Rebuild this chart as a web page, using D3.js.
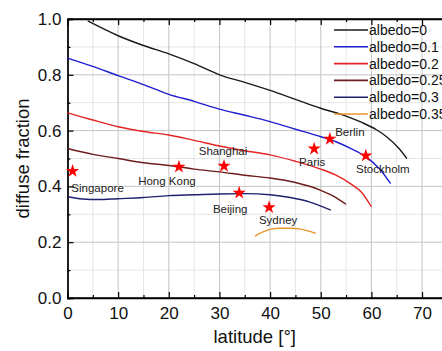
<!DOCTYPE html>
<html>
<head>
<meta charset="utf-8">
<script src="https://cdn.jsdelivr.net/npm/d3@7"></script>
<style>
  body { margin: 0; background: #fff; }
  svg { display: block; font-family: "Liberation Sans", Arial, sans-serif; }
</style>
</head>
<body>
<div id="graf"></div>
<script>
// I. Datos
albedos = ['albedo=0', 'albedo=0.1', 'albedo=0.2', 'albedo=0.25', 'albedo=0.3', 'albedo=0.35']
colores = ['#1a1a1a', '#1f1fd0', '#e42424', '#6e1c1c', '#20206e', '#e8962e']

serie0 = [[4,0.993],[10,0.94],[15,0.905],[20,0.875],[25,0.84],[30,0.80],[35,0.773],[40,0.744],[45,0.712],[50,0.68],[55,0.652],[58,0.63],[61,0.603],[63,0.578],[65.5,0.535],[67,0.50]]
serie1 = [[0,0.86],[5,0.83],[10,0.797],[15,0.765],[20,0.73],[25,0.705],[30,0.677],[35,0.655],[40,0.632],[45,0.605],[50,0.578],[53,0.56],[56,0.535],[59,0.505],[61.5,0.465],[63.8,0.41]]
serie2 = [[0,0.664],[5,0.638],[10,0.614],[15,0.597],[20,0.584],[25,0.565],[30,0.545],[35,0.528],[40,0.513],[45,0.49],[50,0.462],[53,0.44],[56,0.408],[58,0.38],[60,0.327]]
serie3 = [[0,0.536],[5,0.515],[10,0.5],[15,0.485],[20,0.475],[25,0.462],[30,0.452],[35,0.44],[40,0.43],[45,0.414],[50,0.386],[53,0.36],[55,0.336]]
serie4 = [[0,0.363],[3,0.355],[6,0.353],[10,0.356],[15,0.36],[20,0.367],[25,0.37],[30,0.373],[35,0.374],[40,0.37],[44,0.36],[48,0.343],[52,0.315]]
serie5 = [[37,0.222],[38.5,0.236],[40,0.246],[42,0.25],[44,0.25],[46,0.247],[48,0.238],[49,0.232]]
series = [serie0, serie1, serie2, serie3, serie4, serie5]

ciudades = ['Singapore', 'Hong Kong', 'Shanghai', 'Beijing', 'Sydney', 'Paris', 'Berlin', 'Stockholm']
latitudes = [1.0, 22, 30.9, 33.9, 39.8, 48.7, 51.8, 58.9]
fracciones = [0.455, 0.47, 0.473, 0.377, 0.325, 0.535, 0.57, 0.51]
// desplazamiento de la etiqueta respecto a la estrella (px)
etiquetaDx = [25, -12, -1, -9, 9, -2, 20, 17]
etiquetaDy = [21, 18, -11, 20, 17, 17, -3, 17]

xTicks = [0, 10, 20, 30, 40, 50, 60, 70]
yTicks = [0.0, 0.2, 0.4, 0.6, 0.8, 1.0]

// II. Configuración
ancho_total = 442
alto_total = 351
margins = { top: 19, left: 67.5, right: 0, bottom: 53 }

svg = d3.select('#graf').append('svg')
        .attr('width', ancho_total)
        .attr('height', alto_total)

x = d3.scaleLinear().domain([0, 74]).range([margins.left, margins.left + 74 * 5.065])
y = d3.scaleLinear().domain([0, 1]).range([alto_total - margins.bottom, margins.top])

g = svg.append('g')

// rejilla menor
g.selectAll('.gx-menor')
  .data(d3.range(5, 75, 10))
  .enter().append('line')
    .attr('x1', d => x(d)).attr('x2', d => x(d))
    .attr('y1', y(0)).attr('y2', y(1))
    .attr('stroke', '#e6e6e6')
g.selectAll('.gy-menor')
  .data(d3.range(0.1, 1, 0.2))
  .enter().append('line')
    .attr('x1', x(0)).attr('x2', ancho_total)
    .attr('y1', d => y(d)).attr('y2', d => y(d))
    .attr('stroke', '#e6e6e6')

// rejilla mayor
g.selectAll('.gx')
  .data(xTicks.slice(1))
  .enter().append('line')
    .attr('x1', d => x(d)).attr('x2', d => x(d))
    .attr('y1', y(0)).attr('y2', y(1))
    .attr('stroke', '#c4c4c4')
g.selectAll('.gy')
  .data(yTicks.slice(1, -1))
  .enter().append('line')
    .attr('x1', x(0)).attr('x2', ancho_total)
    .attr('y1', d => y(d)).attr('y2', d => y(d))
    .attr('stroke', '#c4c4c4')

// III. Ejes (marcas hacia dentro)
xAxisCall = d3.axisBottom(x).tickValues(xTicks).tickSize(-6).tickPadding(9).tickFormat(d3.format('d'))
xAxisGroup = g.append('g').attr('transform', `translate(0, ${y(0)})`).call(xAxisCall)
xMenor = g.append('g').attr('transform', `translate(0, ${y(0)})`)
          .call(d3.axisBottom(x).tickValues(d3.range(5, 75, 10)).tickSize(-3).tickFormat(''))
xTop = g.append('g').attr('transform', `translate(0, ${y(1)})`)
          .call(d3.axisTop(x).tickValues(xTicks).tickSize(-6).tickFormat(''))
xTopMenor = g.append('g').attr('transform', `translate(0, ${y(1)})`)
          .call(d3.axisTop(x).tickValues(d3.range(5, 75, 10)).tickSize(-3).tickFormat(''))

yAxisCall = d3.axisLeft(y).tickValues(yTicks).tickSize(-6).tickPadding(6).tickFormat(d3.format('.1f'))
yAxisGroup = g.append('g').attr('transform', `translate(${x(0)}, 0)`).call(yAxisCall)
yMenor = g.append('g').attr('transform', `translate(${x(0)}, 0)`)
          .call(d3.axisLeft(y).tickValues(d3.range(0.1, 1, 0.2)).tickSize(-3).tickFormat(''))

;[xAxisGroup, xMenor, xTop, xTopMenor, yAxisGroup, yMenor].forEach(a => {
  a.select('.domain').attr('stroke', '#000').attr('stroke-width', 1.3)
  a.selectAll('.tick line').attr('stroke', '#000').attr('stroke-width', 1.2)
})
xAxisGroup.select('.domain').attr('d', `M${x(0)},0H${ancho_total}`)
xTop.select('.domain').attr('d', `M${x(0)},0H${ancho_total}`)
xAxisGroup.selectAll('text').attr('font-size', '17px').attr('fill', '#111')
yAxisGroup.selectAll('text').attr('font-size', '17px').attr('fill', '#111')

// títulos de ejes
svg.append('text')
   .attr('x', x(0) + (ancho_total - x(0)) / 2)
   .attr('y', 343)
   .attr('text-anchor', 'middle')
   .attr('font-size', '18.5px')
   .attr('fill', '#111')
   .text('latitude [°]')
svg.append('text')
   .attr('transform', `translate(29, ${(y(0) + y(1)) / 2}) rotate(-90)`)
   .attr('text-anchor', 'middle')
   .attr('font-size', '18.5px')
   .attr('fill', '#111')
   .text('diffuse fraction')

// IV. Curvas
linea = d3.line().x(d => x(d[0])).y(d => y(d[1])).curve(d3.curveMonotoneX)
g.selectAll('.curva')
  .data(series)
  .enter().append('path')
    .attr('d', linea)
    .attr('fill', 'none')
    .attr('stroke', (d, i) => colores[i])
    .attr('stroke-width', 1.4)

// V. Ciudades
estrella = d3.symbol().type(d3.symbolStar).size(55)
ciudadesG = g.selectAll('.ciudad')
  .data(ciudades)
  .enter().append('g')
    .attr('transform', (d, i) => `translate(${x(latitudes[i])}, ${y(fracciones[i])})`)
ciudadesG.append('path')
    .attr('d', estrella)
    .attr('fill', '#f00')
ciudadesG.append('text')
    .attr('x', (d, i) => etiquetaDx[i])
    .attr('y', (d, i) => etiquetaDy[i])
    .attr('text-anchor', 'middle')
    .attr('font-size', '11.5px')
    .attr('fill', '#222')
    .text(d => d)

// VI. Leyenda
leyenda = g.selectAll('.leyenda')
  .data(albedos)
  .enter().append('g')
    .attr('transform', (d, i) => `translate(334, ${30 + i * 16.8})`)
leyenda.append('line')
    .attr('x1', 0).attr('x2', 34)
    .attr('stroke', (d, i) => colores[i])
    .attr('stroke-width', 1.6)
leyenda.append('text')
    .attr('x', 35)
    .attr('y', 5)
    .attr('font-size', '14px')
    .attr('fill', '#111')
    .text(d => d)
</script>
</body>
</html>
